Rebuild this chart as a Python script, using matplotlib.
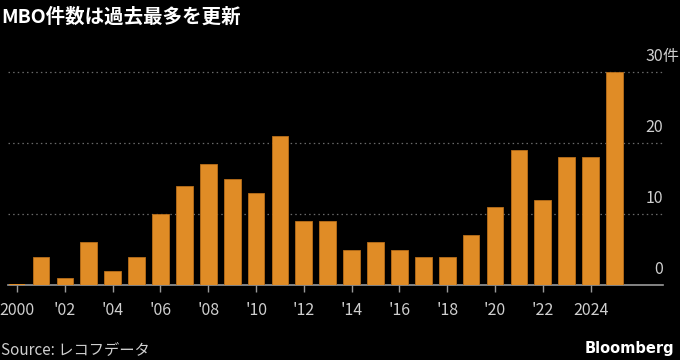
import matplotlib.pyplot as plt
from matplotlib import transforms

plt.rcParams['font.family'] = ['Noto Sans CJK JP', 'DejaVu Sans']

years = list(range(2000, 2026))
counts = [0, 4, 1, 6, 2, 4, 10, 14, 17, 15, 13, 21, 9, 9, 5, 6, 5, 4, 4, 7, 11, 19, 12, 18, 18, 30]
tick_years = list(range(2000, 2025, 2))
tick_labels = ['2000', "'02", "'04", "'06", "'08", "'10", "'12", "'14", "'16", "'18", "'20", "'22", '2024']
y_ticks = [0, 10, 20, 30]

bg = 'black'
bar_color = '#e08c26'
text_color = '#cfcfcf'

fig = plt.figure(figsize=(6.8, 3.6), dpi=100, facecolor=bg)
ax = fig.add_axes([8 / 680, 1 - 285 / 360, (663 - 8) / 680, (285 - 65) / 360])
ax.set_facecolor(bg)

ax.bar(years, counts, width=0.7, color=bar_color, edgecolor='#b86e1a', linewidth=0.6, zorder=3)
# zero-value year shows as a thin line on the baseline
ax.bar([years[0]], [0.15], width=0.7, color=bar_color, zorder=3)

ax.set_xlim(1999.62, 2027.03)
ax.set_ylim(0, 31)

for v in y_ticks[1:]:
    ax.axhline(v, color='#6a6a6a', linestyle=(0, (1.2, 2.5)), linewidth=0.9, zorder=1)

for s in ['top', 'right', 'left']:
    ax.spines[s].set_visible(False)
ax.spines['bottom'].set_color('#9a9a9a')
ax.spines['bottom'].set_linewidth(1.2)

ax.set_xticks(tick_years)
ax.set_xticklabels(tick_labels)
ax.tick_params(axis='x', colors='#9a9a9a', length=5, width=1, labelcolor=text_color,
               labelsize=11.5, pad=7)
ax.set_yticks([])

offset = transforms.offset_copy(ax.get_yaxis_transform(), fig=fig, x=0, y=5, units='points')
for v in y_ticks:
    label = str(v)
    ax.text(1.0, v, label, transform=offset, ha='right', va='bottom',
            color=text_color, fontsize=11.5)
ax.text(1.0, 30, '件', transform=offset, ha='left', va='bottom', color=text_color, fontsize=11.5)

fig.text(1 / 680, 1 - 17 / 360, 'MBO件数は過去最多を更新', color='white', fontsize=14,
         fontweight='bold', ha='left', va='center')
fig.text(1 / 680, 1 - 350 / 360, 'Source: レコフデータ', color=text_color, fontsize=11,
         ha='left', va='center')
fig.text(674 / 680, 1 - 348 / 360, 'Bloomberg', color='white', fontsize=10.5,
         fontweight='bold', ha='right', va='center', family=['DejaVu Sans'])

fig.savefig('out.png', dpi=100, facecolor=bg)
